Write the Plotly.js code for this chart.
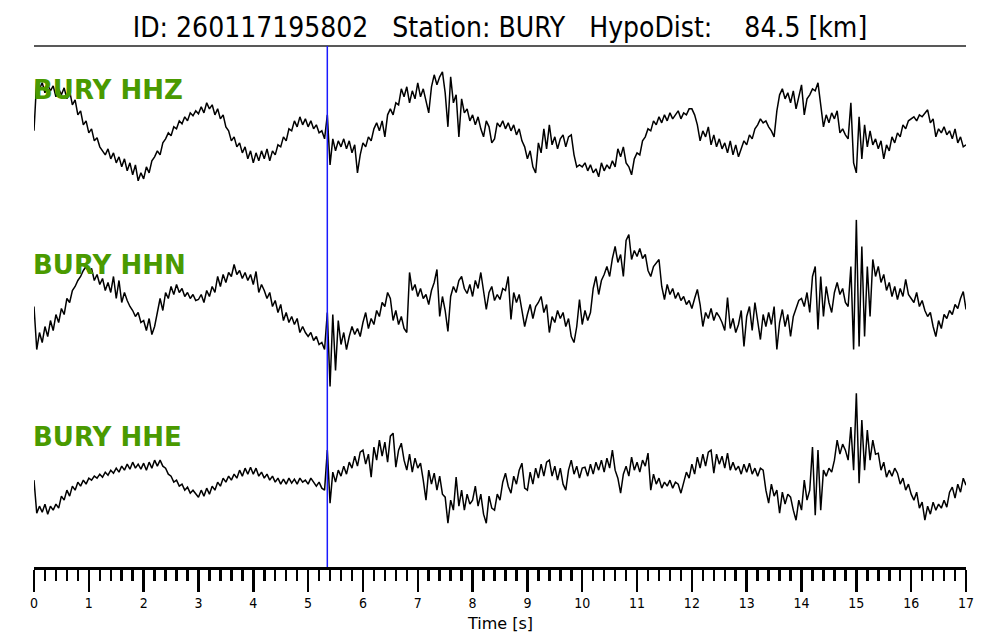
<!DOCTYPE html>
<html>
<head>
<meta charset="utf-8">
<script src="https://cdn.plot.ly/plotly-3.0.1.min.js"></script>
<style>html,body{margin:0;padding:0;background:#fff;}#chart{width:1000px;height:640px;}</style>
</head>
<body>
<div id="chart"></div>
<script>
// ---- metadata ----
const eventId = "260117195802";
const station = "BURY";
const hypoDist = 84.5;          // km
const pickTime = 5.35;          // s (P pick, blue line)
const channels = ["HHZ", "HHN", "HHE"];
const dt = 0.05;
const tickVals = [0,1,2,3,4,5,6,7,8,9,10,11,12,13,14,15,16,17];
const xTitle = "Time [s]";

// ---- traces (relative amplitude, one value per 0.05 s) ----
const hhz = [
 2,53,44,50,40,48,42,47,36,44,38,45,34,42,28,33,18,22,8,12,
 0,4,-8,-5,-14,-18,-22,-16,-26,-20,-30,-24,-34,-26,-38,-30,-42,-32,-48,-40,
 -46,-34,-40,-28,-24,-18,-22,-10,-6,0,-3,6,4,12,9,16,12,20,17,22,
 19,26,20,30,24,28,18,24,14,18,6,2,-8,-4,-14,-10,-20,-14,-26,-18,
 -30,-20,-28,-18,-26,-16,-28,-18,-22,-12,-14,-4,-8,4,2,12,6,16,8,14,
 6,12,4,8,0,2,-6,18,-32,-6,-18,-8,-14,-6,-16,-8,-20,-12,-40,-22,
 -10,-14,-4,-8,4,10,2,12,-4,18,24,18,30,28,44,36,46,30,42,34,
 50,36,44,32,20,46,58,48,56,61,40,6,56,30,38,-4,34,20,24,12,
 18,8,16,4,-4,12,6,-10,-6,10,6,12,4,10,2,8,-2,4,-8,-14,
 -26,-18,-34,-40,-10,-20,4,-16,8,-12,-4,-16,-6,-2,-14,-4,-2,-22,-34,-32,
 -34,-30,-38,-32,-40,-36,-44,-30,-38,-32,-36,-28,-34,-16,-24,-14,-30,-34,-42,-26,
 -20,-22,-8,-4,4,2,12,8,16,10,18,12,20,14,18,22,14,20,18,24,
 24,18,8,-8,2,-4,6,-12,-2,-14,-6,-16,-10,-20,-8,-22,-12,-24,-16,-8,
 -12,-2,-6,4,8,14,10,12,6,2,-4,22,38,44,34,40,30,42,24,36,
 48,18,34,38,44,42,50,28,6,18,10,20,14,22,0,4,-2,-6,30,-30,
 -40,16,-26,8,-14,2,-12,-6,-16,-8,-26,-12,-18,-4,-10,0,-4,8,4,12,
 14,16,12,18,16,20,23,10,14,-4,4,0,6,-2,2,-6,4,-10,-4,-14,
 -12
];
const hhn = [
 0,-43,-26,-36,-20,-30,-14,-24,-8,-16,-2,-8,8,4,16,20,26,30,36,40,
 34,38,26,32,22,28,16,24,14,30,8,26,4,14,6,0,-4,-10,-6,-16,
 -14,-24,-12,-28,-20,-6,8,-4,14,8,20,12,22,14,18,10,14,8,12,6,
 7,12,4,16,10,20,14,30,20,32,24,34,30,42,32,36,28,34,26,32,
 22,35,14,22,16,8,14,0,6,-6,2,-14,-6,-16,-10,-18,-12,-26,-20,-26,
 -30,-26,-34,-30,-38,-36,-43,-6,-80,-8,-64,-14,-38,-26,-43,-30,-20,-28,-22,-30,
 -16,-6,-22,-12,-18,-4,-10,4,0,14,8,-14,-4,-18,-10,-22,-26,34,16,22,
 10,18,8,12,2,16,24,37,-10,10,-4,-25,10,20,14,26,30,18,13,22,
 10,26,18,34,14,-3,14,20,6,12,7,18,16,30,-13,14,4,12,-4,-20,
 -8,2,-12,0,4,10,-6,2,-26,-10,-16,-4,-12,-6,-20,-12,-30,-36,-20,7,
 -18,-4,-14,-6,18,30,12,26,32,40,30,48,60,44,52,30,66,72,47,56,
 50,58,48,52,36,30,40,44,47,20,7,22,12,18,8,14,6,10,2,6,
 -2,8,17,2,-20,-6,-12,-2,-14,-6,-10,-16,-24,9,-22,-12,-26,-18,-4,-40,
 -10,0,-24,4,-14,-33,-8,-20,-6,-18,0,-43,-16,-3,-20,-8,-30,-10,-2,6,
 8,0,14,-6,30,40,-23,30,-10,20,4,-6,14,24,12,18,4,0,40,-43,
 87,-40,60,-30,40,-10,47,30,40,24,32,16,24,10,20,7,18,10,27,12,
 8,4,14,0,6,-4,-10,-6,-20,-30,-14,-22,-8,-12,-4,-8,2,-2,8,15,
 -3
];
const hhe = [
 0,-33,-26,-32,-24,-34,-26,-30,-24,-28,-16,-20,-10,-16,-6,-10,-2,-6,0,-4,
 2,0,4,2,6,3,8,5,10,7,12,8,14,10,16,11,18,12,16,11,
 17,10,18,12,20,14,20,14,12,6,4,-2,0,-6,-4,-10,-7,-13,-10,-14,
 -17,-10,-16,-8,-14,-6,-10,-2,-6,2,-2,4,0,6,2,10,4,12,6,13,
 6,12,4,8,2,6,0,4,-2,2,-4,1,-4,2,-3,1,-4,2,-2,0,
 -4,2,-2,-6,-2,-8,-10,30,-23,8,-2,10,4,14,6,18,12,24,14,28,
 30,16,26,3,33,20,40,24,38,18,44,47,13,30,37,20,10,26,8,22,
 12,17,0,-20,10,-4,7,-10,4,-14,-17,-43,-20,-30,3,-26,-10,-30,-14,-24,
 -20,-6,-26,-14,-34,-43,-16,-28,-30,-14,-20,-2,7,-6,-13,4,-4,10,17,-8,
 -10,8,-4,12,2,16,4,18,20,4,14,0,12,-4,-10,10,20,6,14,2,
 12,13,4,16,6,18,10,20,8,22,12,30,10,2,-13,6,14,4,23,10,
 18,8,20,14,27,-10,6,-4,2,-8,-2,-6,0,-8,-2,-4,-13,-2,8,2,
 16,6,23,12,26,14,28,30,7,26,16,24,12,27,10,18,10,14,6,16,
 8,17,6,12,4,12,10,-10,-23,-4,-16,-10,-33,-12,-24,-14,-17,-30,-40,-20,
 -30,0,-20,-10,33,-35,30,-30,10,4,12,8,20,40,26,36,30,20,53,10,
 87,-3,60,10,50,20,40,26,27,10,18,3,10,4,12,7,-4,2,-10,-4,
 -14,-20,-12,-28,-22,-40,-26,-34,-22,-30,-24,-28,-20,-27,-12,-7,-18,-4,-12,2,
 -5
];

const series = [hhz, hhn, hhe];
const time = hhz.map((_, i) => Math.round(i * dt * 100) / 100);

const AMP = 86.8;
const labelColor = "#4a9a00";
const labelY = [0.9155, 0.5797, 0.2495];

const traces = series.map((vals, k) => ({
  x: time, y: vals,
  xaxis: "x", yaxis: k === 0 ? "y" : "y" + (k + 1),
  type: "scatter", mode: "lines",
  line: {color: "#000000", width: 1.5},
  hoverinfo: "skip"
}));

const ax = (dom) => ({domain: dom, range: [-AMP, AMP], visible: false, fixedrange: true});

const annotations = channels.map((ch, k) => ({
  text: station + " " + ch, xref: "paper", yref: "paper",
  x: -0.003, y: labelY[k], xanchor: "left", yanchor: "middle", showarrow: false,
  font: {family: "DejaVu Sans, sans-serif", size: 26, weight: "bold", color: labelColor}
}));
annotations.push({
  text: xTitle, xref: "paper", yref: "paper", x: 0.5, y: -0.108,
  xanchor: "center", yanchor: "middle", showarrow: false,
  font: {family: "DejaVu Sans, sans-serif", size: 16, color: "#000"}
});

const layout = {
  width: 1000, height: 640,
  margin: {l: 34, r: 34, t: 46, b: 73, pad: 0},
  paper_bgcolor: "#ffffff", plot_bgcolor: "#ffffff",
  showlegend: false,
  font: {family: "DejaVu Sans, sans-serif", color: "#000"},
  title: {
    text: "ID: " + eventId + "\u00a0\u00a0\u00a0Station: " + station +
          "\u00a0\u00a0\u00a0HypoDist:\u00a0\u00a0\u00a0\u00a0" + hypoDist.toFixed(1) + " [km]",
    x: 0.5, xanchor: "center", xref: "paper",
    y: 1 - 27 / 640, yref: "container", yanchor: "middle",
    font: {family: "DejaVu Sans Condensed, DejaVu Sans, sans-serif", size: 28, color: "#000"}
  },
  xaxis: {
    anchor: "y3", range: [0, 17],
    tickmode: "array", tickvals: tickVals, ticktext: tickVals.map(String),
    ticks: "outside", ticklen: 22, tickwidth: 2.5, tickcolor: "#000",
    showline: true, linewidth: 2.5, linecolor: "#000",
    showgrid: false, zeroline: false,
    minor: {dtick: 0.2, tick0: 0, ticks: "outside", ticklen: 11, tickwidth: 2.5, tickcolor: "#000", showgrid: false},
    tickfont: {family: "DejaVu Sans Condensed, DejaVu Sans, sans-serif", size: 14, color: "#000"},
    fixedrange: true
  },
  yaxis: ax([2/3, 1]),
  yaxis2: ax([1/3, 2/3]),
  yaxis3: ax([0, 1/3]),
  shapes: [
    {type: "line", xref: "paper", yref: "paper", x0: 0, x1: 1, y0: 1, y1: 1, line: {color: "#222", width: 1.5}},
    {type: "line", xref: "x", yref: "paper", x0: pickTime, x1: pickTime, y0: 0, y1: 1, line: {color: "#1a1aff", width: 1.5}, layer: "above"}
  ],
  annotations: annotations
};

Plotly.newPlot("chart", traces, layout, {displayModeBar: false, staticPlot: true});
</script>
</body>
</html>
